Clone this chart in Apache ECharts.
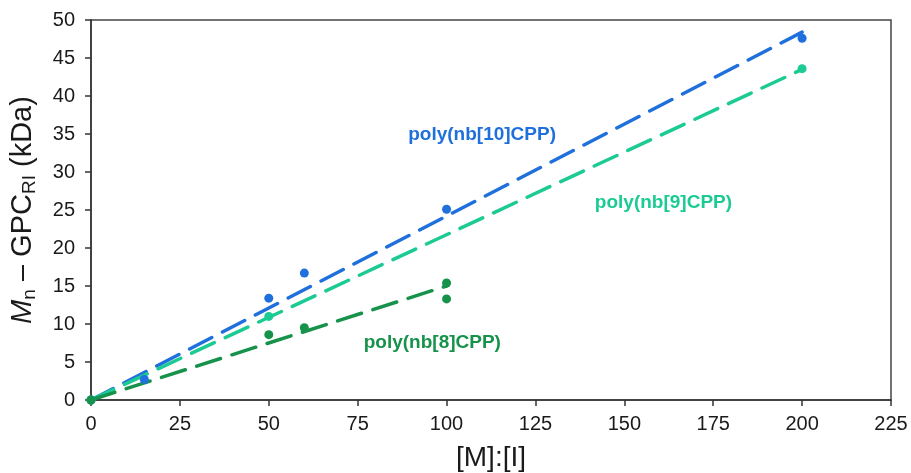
<!DOCTYPE html>
<html>
<head>
<meta charset="utf-8">
<style>
  html, body { margin: 0; padding: 0; background: #fff; }
  #chart { width: 911px; height: 473px; }
</style>
<script src="https://cdn.jsdelivr.net/npm/echarts@6/dist/echarts.min.js"></script>
</head>
<body>
<div id="chart"></div>
<script>
// Measured molecular weights vs monomer:initiator ratio
const seriesNames = ['poly(nb[10]CPP)', 'poly(nb[9]CPP)', 'poly(nb[8]CPP)'];
const colors = ['#1F6FDC', '#1CCB93', '#16924A'];

const nb10Points = [[0, 0], [15, 2.7], [50, 13.4], [60, 16.7], [100, 25.1], [200, 47.6]];
const nb9Points = [[0, 0], [50, 11.0], [200, 43.6]];
const nb8Points = [[0, 0], [50, 8.6], [60, 9.5], [100, 15.4], [100, 13.3]];

// Linear trend lines (through origin): end points
const nb10Trend = [[0, 0], [200, 48.4]];
const nb9Trend = [[0, 0], [200, 43.5]];
const nb8Trend = [[0, 0], [100, 15.0]];

// Label anchor positions in data units
const labelAnchors = [[110, 34.9], [161, 25.9], [96, 7.5]];

const xTicks = { min: 0, max: 225, interval: 25 };
const yTicks = { min: 0, max: 50, interval: 5 };

const FONT = 'Liberation Sans, Arial, sans-serif';
const pointSets = [nb10Points, nb9Points, nb8Points];
const trendSets = [nb10Trend, nb9Trend, nb8Trend];

const series = [];
trendSets.forEach((t, i) => {
  series.push({
    type: 'line',
    data: t,
    symbol: 'none',
    silent: true,
    z: 2,
    lineStyle: { color: colors[i], width: 3.5, type: [25, 12], cap: 'round' }
  });
});
pointSets.forEach((p, i) => {
  series.push({
    type: 'scatter',
    data: p,
    symbol: 'circle',
    symbolSize: 9,
    z: 3,
    itemStyle: { color: colors[i], opacity: 1 }
  });
});
labelAnchors.forEach((a, i) => {
  series.push({
    type: 'scatter',
    data: [a],
    symbolSize: 0,
    silent: true,
    z: 4,
    itemStyle: { color: colors[i], opacity: 1 },
    label: {
      show: true,
      position: 'inside',
      formatter: seriesNames[i],
      color: colors[i],
      fontFamily: FONT,
      fontWeight: 'bold',
      fontSize: 19
    }
  });
});

const axisFont = { fontFamily: FONT, fontSize: 20, color: '#1a1a1a' };

const chart = echarts.init(document.getElementById('chart'));
chart.setOption({
  animation: false,
  backgroundColor: '#fff',
  grid: {
    left: 91, right: 20, top: 20, bottom: 73,
    outerBoundsMode: 'none',
    containLabel: false,
    show: true, borderColor: '#444', borderWidth: 1.5
  },
  xAxis: {
    type: 'value',
    min: xTicks.min, max: xTicks.max, interval: xTicks.interval,
    name: '[M]:[I]',
    nameLocation: 'middle',
    nameGap: 44,
    nameTextStyle: { fontFamily: FONT, fontSize: 28, color: '#1a1a1a' },
    axisLine: { show: true, lineStyle: { color: '#333', width: 1.5 } },
    axisTick: { show: true, inside: false, length: 6, lineStyle: { color: '#333', width: 1.5 } },
    axisLabel: Object.assign({ margin: 14 }, axisFont),
    splitLine: { show: false }
  },
  yAxis: {
    type: 'value',
    min: yTicks.min, max: yTicks.max, interval: yTicks.interval,
    name: '{i|M}{sub|n}{t| – GPC}{sub|RI}{t| (kDa)}',
    nameLocation: 'middle',
    nameGap: 52,
    nameTextStyle: {
      rich: {
        i: { fontFamily: FONT, fontSize: 29, fontStyle: 'italic', color: '#1a1a1a' },
        t: { fontFamily: FONT, fontSize: 29, color: '#1a1a1a' },
        sub: { fontFamily: FONT, fontSize: 19, color: '#1a1a1a', verticalAlign: 'bottom', padding: [14, 0, 0, 0] }
      }
    },
    axisLine: { show: true, lineStyle: { color: '#333', width: 1.5 } },
    axisTick: { show: true, inside: false, length: 6, lineStyle: { color: '#333', width: 1.5 } },
    axisLabel: Object.assign({ margin: 16 }, axisFont),
    splitLine: { show: false }
  },
  series: series
});
</script>
</body>
</html>
